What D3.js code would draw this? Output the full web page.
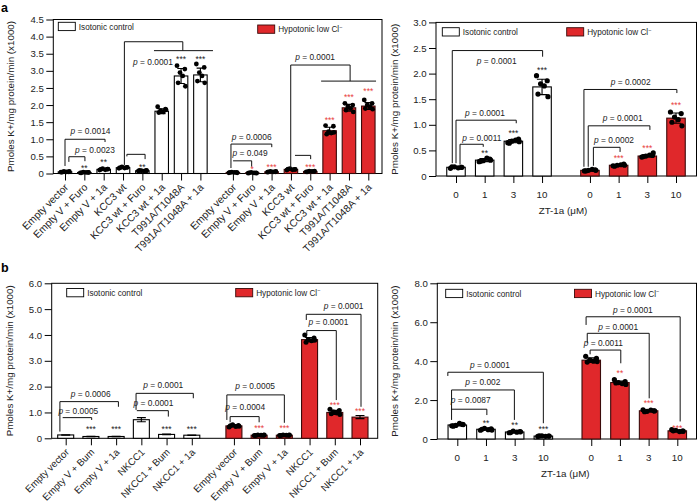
<!DOCTYPE html>
<html><head><meta charset="utf-8">
<script src="https://cdn.jsdelivr.net/npm/d3@7"></script>
<style>body{margin:0;background:#fff}svg text{font-family:"Liberation Sans",Arial,Helvetica,sans-serif}</style>
</head><body><svg id="c" width="698" height="504"></svg>
<script>
// ---------------- DATA ----------------
const aLeftLabels = ["Empty vector","Empty V + Furo","Empty V + 1a","KCC3 wt","KCC3 wt + Furo","KCC3 wt + 1a","T991A/T1048A","T991A/T1048A + 1a"];
const aLeftIso = [0.05,0.03,0.12,0.17,0.08,1.82,2.85,2.88];
const aLeftIsoSD = [0.01,0.01,0.015,0.015,0.01,0.07,0.22,0.2];
const aLeftIsoDots = [[0.04,0.05,0.06,0.05,0.04,0.06],[0.02,0.03,0.04,0.03,0.02,0.03],[0.10,0.13,0.14,0.11,0.12,0.13],[0.15,0.18,0.19,0.16,0.17,0.18],[0.07,0.09,0.08,0.07,0.09,0.08],[1.95,1.88,1.84,1.80,1.78,1.86],[3.15,3.05,2.95,2.85,2.65,2.55],[3.20,3.10,2.95,2.85,2.70,2.65]];
const aLeftHypo = [0.03,0.02,0.05,0.12,0.06,1.25,1.92,1.97];
const aLeftHypoSD = [0.005,0.005,0.01,0.015,0.01,0.1,0.1,0.1];
const aLeftHypoDots = [[0.02,0.03,0.04,0.03,0.03,0.02],[0.01,0.02,0.03,0.02,0.02,0.01],[0.04,0.05,0.06,0.05,0.05,0.06],[0.10,0.12,0.14,0.11,0.13,0.12],[0.05,0.06,0.07,0.06,0.05,0.07],[1.40,1.38,1.22,1.18,1.15,1.20],[2.05,2.00,1.95,1.90,1.85,1.80],[2.15,2.05,2.00,1.95,1.90,1.88]];
const aLeftYTicks = [0,0.5,1.0,1.5,2.0,2.5,3.0,3.5,4.0,4.5];
const aLeftP = ["0.0014","0.0023","0.0001","0.0006","0.049","0.0001"];

const doseLabels = ["0","1","3","10"];
const aRightIso = [0.17,0.31,0.68,1.74];
const aRightIsoSD = [0.015,0.03,0.03,0.15];
const aRightIsoDots = [[0.15,0.17,0.18,0.16,0.18,0.17],[0.28,0.33,0.30,0.35,0.29,0.31],[0.65,0.72,0.68,0.70,0.64,0.67],[1.96,1.86,1.80,1.76,1.60,1.55]];
const aRightHypo = [0.11,0.21,0.39,1.13];
const aRightHypoSD = [0.01,0.015,0.02,0.1];
const aRightHypoDots = [[0.10,0.12,0.11,0.13,0.10,0.11],[0.20,0.23,0.21,0.22,0.19,0.21],[0.37,0.40,0.39,0.41,0.38,0.45],[1.25,1.22,1.15,1.10,1.05,0.98]];
const aRightYTicks = [0,0.5,1.0,1.5,2.0,2.5,3.0];
const aRightP = ["0.0001","0.0001","0.0011","0.0002","0.0001","0.0002"];

const bLeftLabels = ["Empty vector","Empty V + Bum","Empty V + 1a","NKCC1","NKCC1 + Bum","NKCC1 + 1a"];
const bLeftIso = [0.13,0.07,0.07,0.72,0.15,0.12];
const bLeftIsoSD = [0.01,0.01,0.01,0.08,0.01,0.01];
const bLeftIsoDots = [[],[],[],[],[],[]];
const bLeftHypo = [0.48,0.12,0.12,3.82,1.0,0.82];
const bLeftHypoSD = [0.04,0.01,0.01,0.08,0.08,0.06];
const bLeftHypoDots = [[0.44,0.50,0.52,0.46,0.49,0.47],[0.11,0.12,0.13,0.12,0.11,0.13],[0.11,0.12,0.13,0.12,0.11,0.13],[4.00,3.88,3.82,3.78,3.72,3.80],[1.12,1.08,1.02,0.98,0.95,0.92],[]];
const bLeftYTicks = [0,1,2,3,4,5,6];
const bLeftP = ["0.0006","0.0005","0.0001","0.0001","0.0005","0.0004","0.0001","0.0001"];

const bRightIso = [0.72,0.50,0.36,0.15];
const bRightIsoSD = [0.05,0.04,0.04,0.02];
const bRightIsoDots = [[0.68,0.75,0.70,0.80,0.66,0.74],[0.45,0.52,0.55,0.48,0.50,0.46],[0.32,0.38,0.40,0.35,0.33,0.37],[0.13,0.15,0.16,0.14,0.16,0.15]];
const bRightHypo = [4.05,2.90,1.45,0.42];
const bRightHypoSD = [0.12,0.08,0.04,0.04];
const bRightHypoDots = [[4.25,4.15,4.05,4.00,3.95,3.98],[3.05,2.95,2.90,2.85,2.88,2.80],[1.50,1.45,1.42,1.48,1.40,1.44],[0.48,0.40,0.45,0.38,0.42,0.40]];
const bRightYTicks = [0,2,4,6,8];
const bRightP = ["0.0001","0.002","0.0087","0.0001","0.0001","0.0011"];

// ---------------- ANNOTATION GEOMETRY (slot index, data units) ----------------
const aLeftLines = [
 [[0,0.22],[0,1.00],[2.07,1.00],[2.07,0.92]],
 [[0.2,0.34],[0.2,0.49],[1.03,0.49],[1.03,0.36]],
 [[3.2,0.50],[3.2,0.56],[4.14,0.56],[4.14,0.42]],
 [[3.07,0.25],[3.07,3.85],[6.09,3.85],[6.09,3.59]],
 [[4.6,3.59],[7.65,3.59]],
 [[8.58,0.16],[8.58,0.86],[10.69,0.86],[10.69,0.77]],
 [[8.69,0.37],[9.65,0.37],[9.65,0.20]],
 [[11.67,0.16],[11.67,3.17],[14.74,3.17],[14.74,2.70]],
 [[11.89,0.53],[12.70,0.53],[12.70,0.42]],
 [[13.24,2.70],[16.08,2.70]]];
const aLeftPPos = [[1.32,1.24],[1.55,0.70],[4.55,3.27],[9.65,1.07],[9.57,0.59],[12.93,3.40]];
const aLeftStars = [[1,0.21,"**",0],[2,0.39,"**",0],[4,0.24,"**",0],[6,3.39,"***",0],[7,3.39,"***",0],
 [9.68,0.19,"*",1],[10.68,0.23,"***",1],[12.68,0.25,"***",1],[13.68,1.62,"***",1],[14.68,2.30,"***",1],[15.68,2.45,"***",1]];

const aRightLines = [
 [[-0.13,0.25],[-0.13,2.45],[3.02,2.45],[3.02,2.33]],
 [[0,0.25],[0,1.09],[2.1,1.09],[2.1,1.03]],
 [[0.14,0.22],[0.14,0.62],[0.95,0.62],[0.95,0.57]],
 [[4.46,0.18],[4.46,1.69],[7.70,1.69],[7.70,1.62]],
 [[4.61,0.18],[4.61,0.98],[6.76,0.98],[6.76,0.90]],
 [[4.79,0.20],[4.79,0.56],[5.72,0.56],[5.72,0.47]]];
const aRightPPos = [[1.42,2.25],[1.01,1.24],[0.9,0.74],[6.09,1.83],[5.81,1.14],[5.51,0.70]];
const aRightStars = [[1,0.49,"**",0],[2,0.88,"***",0],[3,2.10,"***",0],[5.67,0.38,"***",1],[6.67,0.59,"***",1],[7.67,1.43,"***",1]];

const bLeftLines = [
 [[-0.23,0.26],[-0.23,1.42],[2.09,1.42],[2.09,1.22]],
 [[-0.12,0.80],[1.03,0.80],[1.03,0.71]],
 [[2.79,1.10],[2.79,1.74],[5.06,1.74],[5.06,1.55]],
 [[2.82,1.07],[4.07,1.07],[4.07,0.84]],
 [[6.39,0.71],[6.39,1.68],[8.67,1.68],[8.67,0.60]],
 [[6.52,0.62],[6.52,0.84],[7.67,0.84],[7.67,0.62]],
 [[9.54,4.58],[9.54,4.80],[11.71,4.80],[11.71,1.22]],
 [[9.56,4.00],[9.56,4.17],[10.73,4.17],[10.73,1.48]]];
const bLeftPPos = [[0.99,1.72],[0.5,1.07],[3.87,2.06],[3.48,1.35],[7.51,2.04],[7.12,1.22],[11.02,5.12],[10.42,4.51]];
const bLeftStars = [[1,0.43,"***",0],[2,0.43,"***",0],[4,0.43,"***",0],[5,0.43,"***",0],
 [7.67,0.45,"***",1],[8.67,0.45,"***",1],[10.67,1.36,"***",1],[11.67,1.12,"***",1]];

const bRightLines = [
 [[-0.33,3.24],[-0.33,3.43],[3.0,3.43],[3.0,0.81]],
 [[-0.2,0.98],[-0.2,2.52],[1.99,2.52],[1.99,0.98]],
 [[-0.22,1.53],[1.03,1.53],[1.03,1.23]],
 [[4.49,5.86],[4.49,6.28],[7.77,6.28],[7.77,0.90]],
 [[4.53,4.93],[4.53,5.43],[6.69,5.43],[6.69,2.09]],
 [[4.63,4.35],[4.63,4.57],[5.70,4.57],[5.70,3.89]]];
const bRightPPos = [[1.14,3.80],[0.89,2.94],[0.47,2.0],[6.12,6.63],[5.61,5.77],[5.09,4.92]];
const bRightStars = [[1,0.92,"**",0],[2,0.81,"**",0],[3,0.60,"***",0],[5.67,3.46,"**",1],[6.67,1.92,"***",1],[7.67,0.65,"***",1]];

// ---------------- DRAWING ----------------
const RED = "#e0282b", RED_STAR = "#e8403c";
const svg = d3.select("#c");
const yTitle = "Pmoles K+/mg protein/min (x1000)";
const jit = [-0.30, 0.28, -0.08, 0.12, -0.22, 0.32];

function drawPanel(c) {
  const g = svg.append("g");
  const y = d3.scaleLinear().domain([0, c.yMax]).range([c.zero, c.top]);
  const n = c.iso.length;
  const slotsIso = d3.range(n);
  const slotsHyp = d3.range(n).map(i => n - 1 + c.gap + i);
  const x = d3.scaleLinear().domain([0, n - 1 + c.gap + n - 1]).range([c.c0, c.c1]);

  g.append("rect").attr("x", c.left).attr("y", c.top).attr("width", c.right - c.left)
    .attr("height", c.zero - c.top).attr("fill", "none").attr("stroke", "#000").attr("stroke-width", 1);

  const ya = g.append("g").attr("transform", `translate(${c.left},0)`)
    .call(d3.axisLeft(y).tickValues(c.yTicks).tickFormat(d => d === 0 ? "0" : d3.format(".1f")(d)).tickSize(7).tickSizeOuter(0));
  ya.select(".domain").remove();
  ya.selectAll("text").attr("font-size", 9.6).attr("fill", "#222").attr("x", -9.5);
  ya.selectAll("line").attr("stroke", "#000");

  g.append("text").attr("transform", `translate(${c.titleX},${(c.top + c.zero) / 2}) rotate(-90)`)
    .attr("text-anchor", "middle").attr("font-size", 9.8).attr("fill", "#222").text(yTitle);

  const allSlots = slotsIso.concat(slotsHyp);
  const allLabels = c.labels.concat(c.labels);
  const xa = g.append("g").attr("transform", `translate(0,${c.zero})`)
    .call(d3.axisBottom(x).tickValues(allSlots).tickFormat("").tickSize(7).tickSizeOuter(0));
  xa.select(".domain").remove();
  xa.selectAll("line").attr("stroke", "#000");
  if (c.rotate) {
    allSlots.forEach((s, i) => {
      g.append("text").attr("transform", `translate(${x(s) + 4},${c.zero + 14.5}) rotate(-45)`)
        .attr("text-anchor", "end").attr("font-size", c.labelSize).attr("fill", "#222").text(allLabels[i]);
    });
  } else {
    allSlots.forEach((s, i) => {
      g.append("text").attr("x", x(s)).attr("y", c.zero + 21.5).attr("text-anchor", "middle")
        .attr("font-size", 9.8).attr("fill", "#222").text(allLabels[i]);
    });
    g.append("text").attr("x", x((slotsIso[0] + slotsHyp[n - 1]) / 2) + c.titleShift).attr("y", c.zero + 37.5)
      .attr("text-anchor", "middle").attr("font-size", 9.8).attr("fill", "#222").text("ZT-1a (\u03bcM)");
  }

  function series(vals, sds, dots, slots, fill, stroke) {
    const gg = g.append("g");
    gg.selectAll("rect").data(vals).join("rect")
      .attr("x", (d, i) => x(slots[i]) - c.bw / 2).attr("y", d => y(d))
      .attr("width", c.bw).attr("height", d => c.zero - y(d))
      .attr("fill", fill).attr("stroke", stroke).attr("stroke-width", 1.1);
    const cw = c.bw * 0.28;
    vals.forEach((v, i) => {
      const cx = x(slots[i]), lo = y(Math.max(0, v - sds[i])), hi = y(v + sds[i]);
      const p = d3.path();
      p.moveTo(cx, lo); p.lineTo(cx, hi);
      p.moveTo(cx - cw, hi); p.lineTo(cx + cw, hi);
      p.moveTo(cx - cw, lo); p.lineTo(cx + cw, lo);
      gg.append("path").attr("d", p.toString()).attr("stroke", "#000").attr("stroke-width", 1.1).attr("fill", "none");
      gg.selectAll(null).data(dots[i]).join("circle")
        .attr("cx", (d, k) => cx + jit[k] * c.bw).attr("cy", d => y(d)).attr("r", c.r).attr("fill", "#000");
    });
  }
  series(c.iso, c.isoSD, c.isoDots, slotsIso, "#fff", "#000");
  series(c.hyp, c.hypSD, c.hypDots, slotsHyp, RED, "#3a0a0a");

  const line = d3.line().x(d => x(d[0])).y(d => y(d[1]));
  c.lines.forEach(L => g.append("path").attr("d", line(L)).attr("fill", "none").attr("stroke", "#111").attr("stroke-width", 1));
  c.p.forEach((pv, i) => {
    const t = g.append("text").attr("x", x(c.pPos[i][0])).attr("y", y(c.pPos[i][1])).attr("dy", "0.36em")
      .attr("text-anchor", "middle").attr("font-size", 8.4).attr("fill", "#222");
    t.append("tspan").attr("font-style", "italic").text("p");
    t.append("tspan").text(" = " + pv);
  });
  c.stars.forEach(s => {
    g.append("text").attr("x", x(s[0])).attr("y", y(s[1]) + 4.8).attr("text-anchor", "middle")
      .attr("font-size", 8.5).attr("fill", s[3] ? RED_STAR : "#222").text(s[2]);
  });

  const lg = g.append("g").attr("font-size", 8.2).attr("fill", "#222");
  lg.append("rect").attr("x", c.leg[0]).attr("y", c.leg[1]).attr("width", 17).attr("height", 8.3)
    .attr("fill", "#fff").attr("stroke", "#000").attr("stroke-width", 0.9);
  lg.append("text").attr("x", c.leg[0] + 20.5).attr("y", c.leg[1] + 7.3).text("Isotonic control");
  lg.append("rect").attr("x", c.leg[2]).attr("y", c.leg[3]).attr("width", 17).attr("height", 8.3)
    .attr("fill", RED).attr("stroke", "#3a0a0a").attr("stroke-width", 0.9);
  const ht = lg.append("text").attr("x", c.leg[2] + 20.5).attr("y", c.leg[3] + 7.3).text("Hypotonic low Cl");
  ht.append("tspan").attr("font-size", 5.5).attr("dy", -3.5).text("\u2212");
}

drawPanel({left:53.3, right:382, top:19.5, zero:173.5, c0:65, c1:368.3, gap:1.68, bw:13.5, r:2.4, yMax:4.5,
  yTicks:aLeftYTicks, titleX:14, labels:aLeftLabels, rotate:true, labelSize:10.3,
  iso:aLeftIso, isoSD:aLeftIsoSD, isoDots:aLeftIsoDots, hyp:aLeftHypo, hypSD:aLeftHypoSD, hypDots:aLeftHypoDots,
  lines:aLeftLines, p:aLeftP, pPos:aLeftPPos, stars:aLeftStars, leg:[58.3,22.3,257.7,25]});

drawPanel({left:436, right:696.5, top:22.4, zero:176, c0:456, c1:676, gap:1.67, bw:18.5, r:2.6, yMax:3.0,
  yTicks:aRightYTicks, titleX:398, labels:doseLabels, rotate:false, titleShift:-3,
  iso:aRightIso, isoSD:aRightIsoSD, isoDots:aRightIsoDots, hyp:aRightHypo, hypSD:aRightHypoSD, hypDots:aRightHypoDots,
  lines:aRightLines, p:aRightP, pPos:aRightPPos, stars:aRightStars, leg:[442.3,27.7,566.7,27.7]});

drawPanel({left:51.7, right:377.7, top:283.3, zero:438.3, c0:65.7, c1:360, gap:1.67, bw:16, r:2.5, yMax:6,
  yTicks:bLeftYTicks, titleX:13, labels:bLeftLabels, rotate:true, labelSize:9.8,
  iso:bLeftIso, isoSD:bLeftIsoSD, isoDots:bLeftIsoDots, hyp:bLeftHypo, hypSD:bLeftHypoSD, hypDots:bLeftHypoDots,
  lines:bLeftLines, p:bLeftP, pPos:bLeftPPos, stars:bLeftStars, leg:[66.7,288.5,235.7,288.5]});

drawPanel({left:437.3, right:696.5, top:283.3, zero:439, c0:457.3, c1:677.3, gap:1.67, bw:18.5, r:2.6, yMax:8,
  yTicks:bRightYTicks, titleX:398, labels:doseLabels, rotate:false, titleShift:-2,
  iso:bRightIso, isoSD:bRightIsoSD, isoDots:bRightIsoDots, hyp:bRightHypo, hypSD:bRightHypoSD, hypDots:bRightHypoDots,
  lines:bRightLines, p:bRightP, pPos:bRightPPos, stars:bRightStars, leg:[445.7,289.3,574.5,289.3]});

svg.append("text").attr("x", 1).attr("y", 12).attr("font-size", 12.5).attr("font-weight", "bold").text("a");
svg.append("text").attr("x", 1).attr("y", 272).attr("font-size", 12.5).attr("font-weight", "bold").text("b");
</script></body></html>
